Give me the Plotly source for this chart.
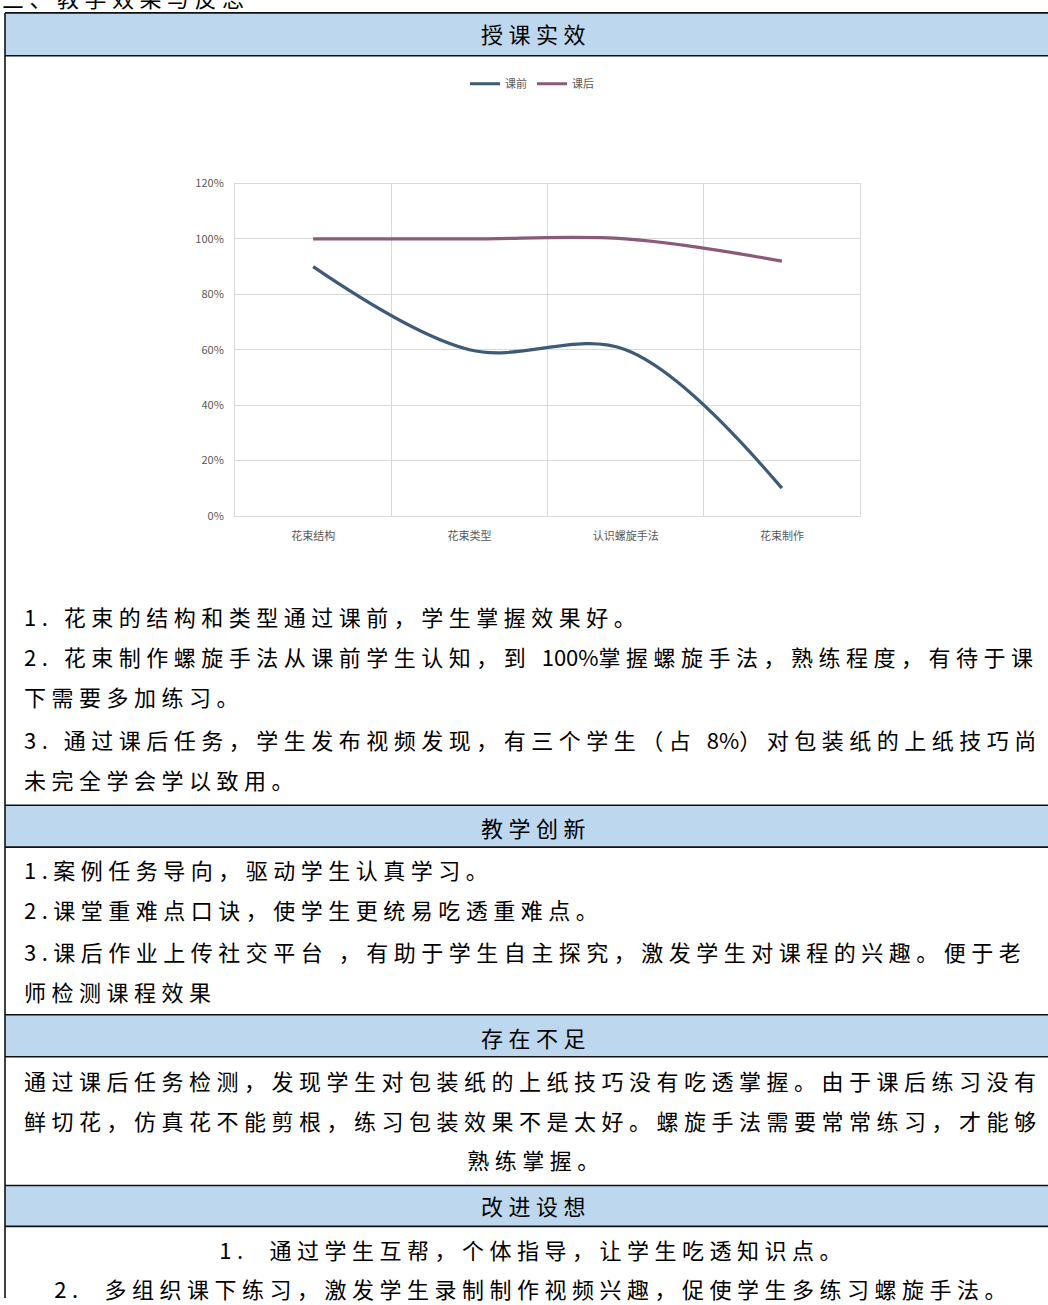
import plotly.graph_objects as go

# ---------------- data ----------------
categories = ["花束结构", "花束类型", "认识螺旋手法", "花束制作"]
before_vals = [0.90, 0.60, 0.60, 0.10]
after_vals = [1.00, 1.00, 1.00, 0.92]
series_names = ["课前", "课后"]
y_tick_vals = [0, 0.2, 0.4, 0.6, 0.8, 1.0, 1.2]
y_tick_text = ["0%", "20%", "40%", "60%", "80%", "100%", "120%"]

page_heading = "三、教学效果与反思"
section_titles = ["授课实效", "教学创新", "存在不足", "改进设想"]
NB = "\u00a0"
PLAIN = '<span style="letter-spacing:0px">{}</span>'
effect_lines = [
    "1." + NB + "花束的结构和类型通过课前，学生掌握效果好。",
    "2." + NB + "花束制作螺旋手法从课前学生认知，到 " + PLAIN.format("100%") + "掌握螺旋手法，熟练程度，有待于课",
    "下需要多加练习。",
    "3." + NB + "通过课后任务，学生发布视频发现，有三个学生（占 " + PLAIN.format("8%") + "）对包装纸的上纸技巧尚",
    "未完全学会学以致用。",
]
innovation_lines = [
    "1.案例任务导向，驱动学生认真学习。",
    "2.课堂重难点口诀，使学生更统易吃透重难点。",
    "3.课后作业上传社交平台 ，有助于学生自主探究，激发学生对课程的兴趣。便于老",
    "师检测课程效果",
]
shortage_lines = [
    "通过课后任务检测，发现学生对包装纸的上纸技巧没有吃透掌握。由于课后练习没有",
    "鲜切花，仿真花不能剪根，练习包装效果不是太好。螺旋手法需要常常练习，才能够",
]
shortage_last = "熟练掌握。"
improve_lines = [
    "1." + NB + NB + "通过学生互帮，个体指导，让学生吃透知识点。",
    "2." + NB + NB + "多组织课下练习，激发学生录制制作视频兴趣，促使学生多练习螺旋手法。",
]

# ---------------- layout helpers ----------------
W, H = 1048, 1305
# the captured page is a little taller than the figure: compensate so that
# positions given in target-picture pixels land where intended
Y_SCALE, Y_OFF = 0.9898, 8.1


def px(x):
    return x / W


def py(y):
    return 1 - ((y - Y_OFF) / Y_SCALE) / H


TXT_FONT = "Noto Sans CJK SC"
BODY_SIZE = 22
HEADER_FILL = "#BDD7EE"
C_BEFORE = "#3D5A78"
C_AFTER = "#8C5A79"
GRID = "#D9D9D9"
TICK = "#595959"

fig = go.Figure()
fig.add_trace(go.Scatter(
    x=categories, y=before_vals, name=series_names[0], mode="lines",
    line=dict(color=C_BEFORE, width=3.2, shape="spline", smoothing=1.0),
))
fig.add_trace(go.Scatter(
    x=categories, y=after_vals, name=series_names[1], mode="lines",
    line=dict(color=C_AFTER, width=3.2, shape="spline", smoothing=1.0),
))

shapes = []
bands = [(12, 55), (806, 848), (1016, 1058), (1187, 1228)]
for (y0, y1) in bands:
    shapes.append(dict(type="rect", xref="paper", yref="paper",
                       x0=px(5), x1=1.0, y0=py(y1), y1=py(y0),
                       fillcolor=HEADER_FILL, line=dict(width=0), layer="below"))
for yy in [12, 55, 806, 848, 1016, 1058, 1187, 1228]:
    shapes.append(dict(type="line", xref="paper", yref="paper",
                       x0=px(5), x1=1.0, y0=py(yy), y1=py(yy),
                       line=dict(color="#111111", width=1.6)))
shapes.append(dict(type="line", xref="paper", yref="paper",
                   x0=px(5), x1=px(5), y0=0, y1=py(12),
                   line=dict(color="#111111", width=1.6)))

annotations = []


def add_text(text, x, y, anchor="left", size=BODY_SIZE, yanchor="middle"):
    annotations.append(dict(
        text=text, xref="paper", yref="paper", x=px(x), y=py(y),
        xanchor=anchor, yanchor=yanchor, align=anchor, showarrow=False,
        font=dict(family=TXT_FONT, size=size, color="#000000"),
    ))


# page heading: only its lower edge shows above the table, as in the target
add_text(page_heading, 0, 14, anchor="left", yanchor="bottom")

for title, yy in zip(section_titles, [32, 828, 1038, 1207]):
    add_text(title, 536, yy, anchor="center")
for line, yy in zip(effect_lines, [616, 656, 697, 740, 780]):
    add_text(line, 22, yy)
for line, yy in zip(innovation_lines, [870, 910, 952, 992]):
    add_text(line, 22, yy)
for line, yy in zip(shortage_lines, [1081, 1121]):
    add_text(line, 22, yy)
add_text(shortage_last, 536, 1161, anchor="center")
for line, yy in zip(improve_lines, [1251, 1290]):
    add_text(line, 533, yy, anchor="center")

fig.update_layout(
    width=W, height=H,
    margin=dict(l=0, r=0, t=0, b=0),
    paper_bgcolor="white", plot_bgcolor="rgba(0,0,0,0)",
    shapes=shapes, annotations=annotations,
    showlegend=True,
    legend=dict(orientation="h", x=px(532), y=py(83), xanchor="center", yanchor="middle",
                font=dict(family=TXT_FONT, size=11, color=TICK),
                itemwidth=30, bgcolor="rgba(0,0,0,0)"),
    xaxis=dict(domain=[px(235), px(860)], type="category",
               tickson="boundaries", showgrid=True, gridcolor=GRID, gridwidth=1,
               showline=True, linecolor=GRID, mirror=True, ticks="",
               tickfont=dict(family=TXT_FONT, size=11, color=TICK),
               ticklabelstandoff=10,
               range=[-0.5, 3.5], zeroline=False, fixedrange=True),
    yaxis=dict(domain=[py(516), py(183)], range=[0, 1.2],
               tickvals=y_tick_vals, ticktext=y_tick_text,
               showgrid=True, gridcolor=GRID, gridwidth=1,
               showline=True, linecolor=GRID, mirror=True, zeroline=False,
               tickfont=dict(family=TXT_FONT, size=11, color=TICK),
               ticklabelstandoff=8, fixedrange=True),
)

post = (
    "var s=document.createElement('style');"
    "s.innerHTML='html,body{margin:0;padding:0;overflow:hidden}"
    ".annotation-text{letter-spacing:5.5px}';"
    "document.head.appendChild(s);"
    "var gd=document.getElementById('{plot_id}');"
    "Plotly.newPlot(gd, gd.data, gd.layout, gd._context);"
)
fig.write_html("out.html", post_script=post, config={"displayModeBar": False})
